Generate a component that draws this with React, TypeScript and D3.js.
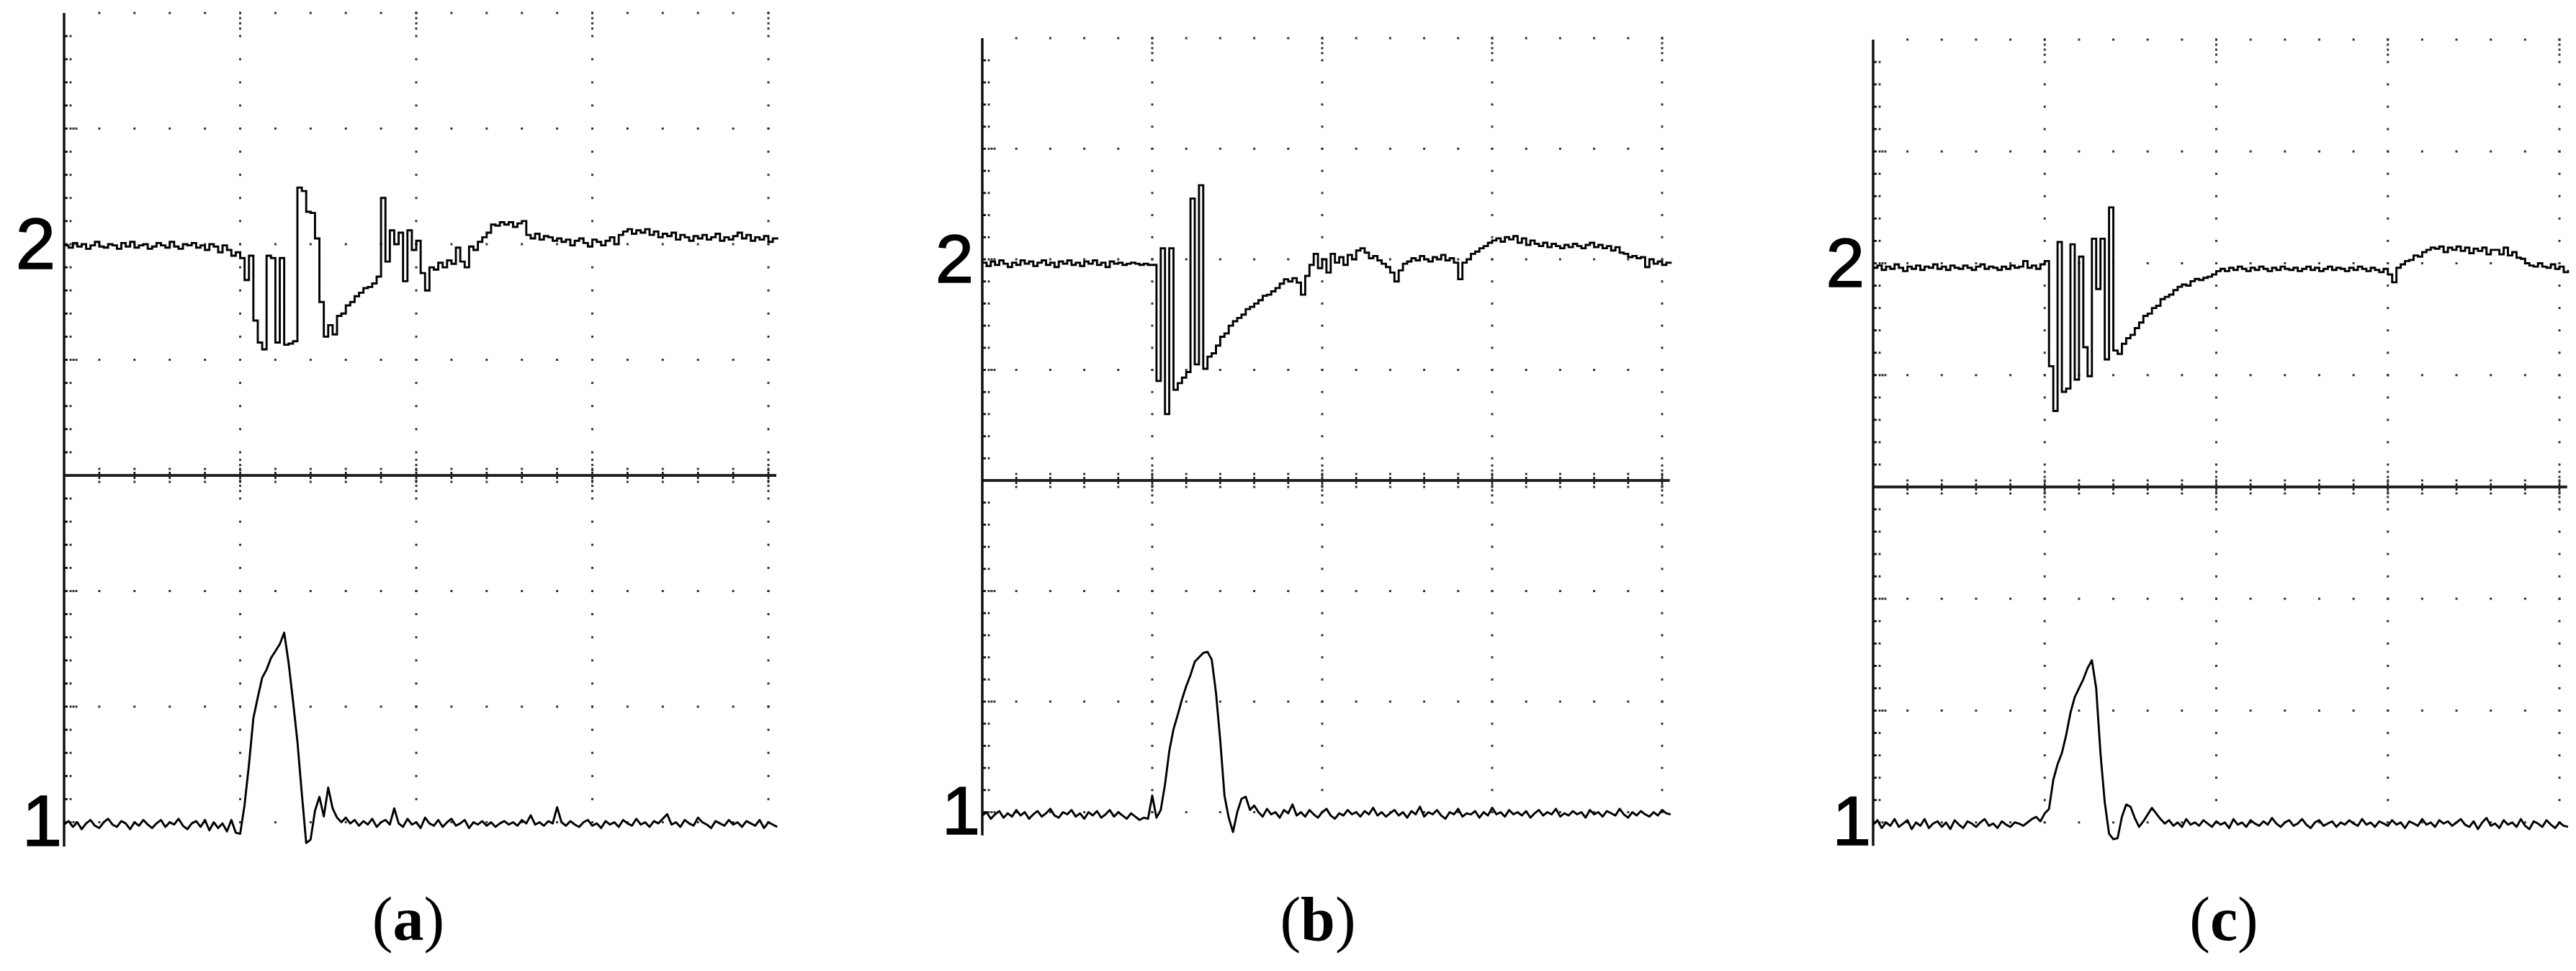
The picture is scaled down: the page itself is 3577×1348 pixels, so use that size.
import React from 'react';
import * as d3 from 'd3';

// Sample step along the time axis, in screen divisions
const STEP = 0.025;

// Channel 2 / channel 1 traces, values in screen divisions (divider = 0, top = 4)
const A2 = [
  1.99, 1.97, 2.01, 1.98, 2.00, 1.96, 1.99, 2.02, 1.98, 1.97,
  2.00, 1.99, 1.96, 2.01, 1.98, 2.02, 1.97, 1.99, 2.00, 1.96,
  1.98, 2.01, 1.99, 1.97, 2.02, 1.98, 1.96, 2.00, 1.99, 2.01,
  1.97, 1.99, 1.95, 2.00, 1.98, 1.93, 1.99, 1.95, 1.90, 1.93,
  1.88,
  1.69, 1.90, 1.34, 1.15, 1.09, 1.90, 1.88, 1.15, 1.88, 1.13, 1.14, 1.16, 2.49, 2.46, 2.28, 2.27,
  2.05, 1.50, 1.20, 1.30, 1.22, 1.38, 1.40, 1.47, 1.50, 1.55, 1.58, 1.62, 1.63, 1.66, 1.72,
  2.40, 1.85, 2.12, 2.00, 2.10, 1.68, 2.12, 1.95, 2.03, 1.75, 1.60, 1.80, 1.78, 1.84, 1.80, 1.86,
  1.83, 1.97, 1.85, 1.80, 1.98, 1.95, 2.02, 2.06, 2.10, 2.17, 2.16, 2.19, 2.17, 2.19, 2.15, 2.18,
  2.20, 2.08, 2.05, 2.09, 2.04, 2.07, 2.06,
  2.03, 2.05, 2.02, 2.04, 1.99, 2.03, 2.05, 2.01, 1.98, 2.04, 2.02, 1.99,
  2.03, 2.06, 2.00, 2.08, 2.11, 2.13, 2.09, 2.12, 2.10, 2.13, 2.08, 2.11, 2.06,
  2.09, 2.07, 2.10, 2.04, 2.08, 2.06, 2.03, 2.07, 2.05, 2.08, 2.04, 2.06, 2.09, 2.03, 2.06,
  2.04, 2.07, 2.10, 2.05, 2.08, 2.03, 2.06, 2.04, 2.07, 2.02, 2.05, 2.04,
];

const A1 = [
  -3.02, -2.99, -3.04, -3.00, -3.06, -3.01, -2.98, -3.03, -3.05, -3.00,
  -2.97, -3.02, -3.04, -2.99, -3.01, -3.06, -3.00, -3.03, -2.98, -3.02,
  -3.05, -3.01, -2.98, -3.04, -3.00, -3.02, -2.97, -3.03, -3.06, -3.01,
  -2.99, -3.04, -2.98, -3.07, -3.00, -3.05, -3.01, -3.08, -2.98, -3.09,
  -3.10,
  -2.85, -2.50, -2.10, -1.92, -1.75, -1.68, -1.58, -1.52, -1.46, -1.36,
  -1.62, -1.95, -2.30, -2.75, -3.18, -3.15, -2.90, -2.78, -2.95, -2.70,
  -2.88, -2.96, -3.00, -2.96, -3.01,
  -2.98, -3.03, -2.99, -3.02, -2.97, -3.04, -3.00, -2.98, -3.02, -2.88,
  -3.01, -3.04, -2.97, -3.02, -3.00, -3.05, -2.96, -3.01, -3.03, -2.98,
  -3.04, -3.00, -2.97, -3.03, -3.01, -2.98, -3.05, -3.00, -3.02, -2.99,
  -3.03, -3.00, -3.04, -3.01, -2.99, -3.02, -3.00, -3.03, -2.98, -3.01,
  -2.94, -3.02, -3.00, -3.03, -2.99, -3.01, -2.87, -3.00, -3.03, -2.99,
  -3.02, -3.04, -3.00, -2.98, -3.03, -3.01, -3.05, -2.99, -3.02, -3.00,
  -3.04, -2.98, -3.01, -3.03, -2.97, -3.02, -3.00, -3.04, -2.99, -3.01,
  -2.97, -2.93, -3.02, -3.00, -3.04, -2.98, -3.01, -3.03, -2.96, -3.00,
  -3.02, -3.05, -2.99, -3.01, -3.03, -2.98, -3.02, -3.00, -3.04, -2.99,
  -3.01, -3.03, -2.98, -3.05, -3.00, -3.02, -3.04,
];

const B2 = [
  1.97, 1.94, 1.98, 1.95, 1.99, 1.96, 1.93, 1.97, 1.95, 1.99,
  1.96, 1.98, 1.94, 1.97, 1.99, 1.95, 1.97, 1.93, 1.98, 1.96,
  1.99, 1.95, 1.97, 1.94, 1.98, 1.96, 1.99, 1.95, 1.97, 1.93,
  1.98, 1.96, 1.97, 1.95, 1.96, 1.97, 1.96, 1.95, 1.96, 1.95,
  1.95,
  0.90, 2.10, 0.60, 2.10, 0.82, 0.88, 0.93, 0.98, 2.55, 1.05,
  2.67, 1.01, 1.12, 1.15, 1.22, 1.30, 1.33, 1.40, 1.44, 1.47,
  1.50, 1.55, 1.57, 1.60, 1.63, 1.67, 1.68, 1.71, 1.74, 1.78,
  1.82, 1.80, 1.83, 1.79,
  1.68, 1.85, 1.95, 2.05, 1.92, 2.00, 1.88, 2.05, 1.97, 2.02,
  1.95, 2.04, 2.00, 2.08, 2.10, 2.06, 2.01, 2.03, 1.99, 1.96,
  1.93, 1.88, 1.80, 1.90, 1.96, 1.98, 2.01, 1.99, 2.03, 2.00,
  1.98, 2.02, 2.00, 2.04, 1.99, 2.01, 1.97, 1.82, 1.97, 2.00,
  2.05, 2.07, 2.10, 2.12, 2.15, 2.17, 2.19, 2.16, 2.20, 2.18,
  2.21, 2.15, 2.19, 2.13, 2.17, 2.14, 2.12, 2.15, 2.11, 2.14,
  2.12, 2.10, 2.13, 2.11, 2.14, 2.12, 2.10, 2.13, 2.15, 2.11,
  2.13, 2.10, 2.12, 2.08, 2.11, 2.06, 2.05, 2.02, 2.03, 2.01,
  2.02, 1.93, 2.00, 1.96, 1.98, 1.95, 1.97, 1.96,
];

const B1 = [
  -3.03, -3.00, -3.06, -3.02, -2.99, -3.05, -3.01, -3.04, -2.98, -3.03,
  -3.00, -3.06, -3.02, -2.99, -3.04, -3.01, -2.97, -3.03, -3.05, -3.00,
  -3.02, -2.98, -3.04, -3.01, -3.06, -3.00, -3.03, -2.99, -3.05, -3.02,
  -2.98, -3.04, -3.00, -3.03, -3.06, -3.01, -3.04, -3.07, -3.05,
  -3.06, -2.85, -3.05, -2.98, -2.75, -2.45, -2.25, -2.12, -1.98, -1.86,
  -1.76, -1.64, -1.60, -1.56, -1.55, -1.62, -1.92, -2.35, -2.85, -3.05,
  -3.18, -3.00, -2.88, -2.86, -2.98, -2.94,
  -3.00, -3.04, -2.97, -3.02, -3.00, -3.05, -2.98, -3.01, -2.93, -3.03,
  -3.00, -3.04, -2.98, -3.02, -3.05, -3.00, -2.97, -3.03, -3.06, -3.01,
  -3.03, -2.98, -3.02, -3.00, -3.04, -2.99, -3.02, -2.96, -3.03, -3.00,
  -3.04, -3.01, -2.98, -3.03, -3.00, -3.05, -2.99, -3.02, -2.95, -3.04,
  -3.00, -3.02, -2.98, -3.03, -3.06, -3.00, -3.02, -2.97, -3.04, -3.01,
  -3.02, -2.99, -3.05, -3.00, -3.03, -2.96, -3.02, -3.00, -3.04, -2.98,
  -3.02, -3.00, -3.03, -2.99, -3.05, -3.01, -2.98, -3.03, -3.00, -3.02,
  -2.97, -3.04, -3.01, -3.03, -2.99, -3.02, -3.00, -3.05, -2.98, -3.02,
  -3.00, -3.04, -2.99, -3.01, -3.03, -2.97, -3.02, -3.05, -3.00, -3.03,
  -2.99, -3.02, -3.04, -3.00, -3.03, -2.98, -3.01, -3.02,
];

const C2 = [
  1.96, 1.98, 1.94, 1.97, 1.95, 1.99, 1.96, 1.93, 1.97, 1.95,
  1.98, 1.94, 1.97, 1.96, 1.99, 1.95, 1.97, 1.94, 1.98, 1.96,
  1.95, 1.98, 1.96, 1.94, 1.97, 1.99, 1.95, 1.97, 1.96, 1.94,
  1.97, 1.95, 1.98, 1.96, 1.97, 2.02, 1.96, 1.98, 1.95, 1.99,
  2.02, 1.08, 0.68, 2.19, 0.85, 0.88, 2.17, 0.96, 2.06, 1.25,
  0.99, 2.22, 1.77, 2.22, 1.14, 2.50, 1.22, 1.19, 1.28, 1.33,
  1.36, 1.42, 1.47, 1.53, 1.55, 1.60, 1.62, 1.68, 1.70, 1.72,
  1.76, 1.79, 1.81, 1.80, 1.84, 1.86, 1.85, 1.87, 1.88, 1.90,
  1.93,
  1.95, 1.93, 1.96, 1.94, 1.97, 1.95, 1.93, 1.96, 1.94, 1.97,
  1.95, 1.93, 1.96, 1.94, 1.97, 1.95, 1.94, 1.96, 1.93, 1.95,
  1.97, 1.94, 1.96, 1.93, 1.95, 1.97, 1.94, 1.96, 1.95, 1.93,
  1.96, 1.94, 1.97, 1.95, 1.93, 1.96, 1.94, 1.92, 1.95, 1.90,
  1.83, 1.96, 1.99, 2.02, 2.03, 2.07, 2.06, 2.10, 2.12, 2.14,
  2.13, 2.15, 2.10, 2.14, 2.12, 2.15, 2.11, 2.14, 2.09, 2.13,
  2.11, 2.14, 2.08, 2.12, 2.12, 2.08, 2.14, 2.07, 2.10, 2.05,
  2.04, 2.00, 1.98, 1.97, 2.00, 1.97, 1.96, 1.99, 1.95, 1.97,
  1.92, 1.94,
];

const C1 = [
  -3.02, -2.98, -3.05, -3.00, -3.03, -2.97, -3.04, -3.01, -2.98, -3.06,
  -3.00, -3.03, -2.97, -3.05, -3.01, -2.99, -3.04, -3.00, -3.06, -2.98,
  -3.02, -3.05, -2.99, -3.01, -3.04, -3.00, -2.97, -3.03, -3.01, -3.05,
  -2.99, -3.02, -3.04, -3.00, -3.01, -3.03,
  -3.00, -2.97, -2.95, -2.99, -2.92, -2.88, -2.62, -2.48, -2.38, -2.22,
  -2.02, -1.88, -1.80, -1.72, -1.62, -1.55, -1.80, -2.38, -2.82, -3.10,
  -3.15, -3.14, -2.95, -2.84, -2.86, -2.96, -3.04, -2.99, -2.93, -2.87,
  -2.92, -2.97,
  -3.01, -2.98, -3.03, -3.00, -3.04, -2.97, -3.02, -3.00, -3.03, -2.98,
  -3.01, -3.04, -2.99, -3.02, -3.00, -3.05, -2.97, -3.02, -3.00, -3.04,
  -2.98, -3.01, -3.03, -2.99, -3.02, -2.96, -3.01, -3.04, -3.00, -2.98,
  -3.03, -3.01, -2.97, -3.02, -3.05, -3.00, -2.98, -3.03, -3.01, -2.99,
  -3.04, -3.00, -3.02, -2.98, -3.01, -3.03, -2.97, -3.02, -3.00, -3.04,
  -2.99, -3.01, -3.03, -2.98, -3.02, -3.00, -3.05, -2.99, -3.01, -3.03,
  -2.97, -3.02, -3.00, -3.04, -2.98, -3.01, -2.99, -3.03, -3.00, -2.97,
  -3.02, -3.04, -2.99, -3.06, -3.00, -2.96, -3.03, -3.01, -3.05, -2.98,
  -3.02, -3.00, -3.04, -2.97, -3.03, -3.06, -2.99, -3.01, -3.04, -2.98,
  -3.02, -3.05, -3.00, -3.03, -3.04,
];

// Graticule levels (divisions)
const MAJOR_ROWS = [4, 3, 2, 1, -1, -2, -3];
const MAJOR_COLS = [1, 2, 3, 4];
const CHANNEL_LABELS = ['2', '1'];
const CAPTIONS = ['a', 'b', 'c'];

// Panel placement (layout only)
const PANELS = [
  { ch2: A2, ch1: A1, left: 89, right: 1067, top: 18, mid: 660, capX: 567 },
  { ch2: B2, ch1: B1, left: 1364, right: 2308, top: 53, mid: 667, capX: 1830 },
  { ch2: C2, ch1: C1, left: 2601, right: 3554, top: 55, mid: 676, capX: 3088 },
];

const DOT = '#333';

function Panel({ p, caption }: { p: any; caption: string }) {
  const x = d3.scaleLinear().domain([0, 4]).range([p.left, p.right]);
  const y = d3.scaleLinear().domain([0, 4]).range([p.mid, p.top]);
  const divY = (p.mid - p.top) / 4;
  const stepLine = d3
    .line<number>()
    .x((_d, i) => x(i * STEP))
    .y((d) => y(d))
    .curve(d3.curveStepAfter);
  const smoothLine = d3
    .line<number>()
    .x((_d, i) => x(i * STEP))
    .y((d) => y(d))
    .curve(d3.curveLinear);

  const minorX = d3.range(1, 21).map((k) => k / 5);
  const minorY = d3.range(-15, 21).map((k) => k / 5).filter((v) => Math.abs(v) > 1e-6);
  const dense = [0.045, 0.09, 0.135];

  const dots: { cx: number; cy: number }[] = [];
  MAJOR_ROWS.forEach((r) => minorX.forEach((m) => dots.push({ cx: x(m), cy: y(r) })));
  MAJOR_COLS.forEach((c) => {
    minorY.forEach((m) => dots.push({ cx: x(c), cy: y(m) }));
    dense.forEach((d) => {
      dots.push({ cx: x(c), cy: y(d) });
      dots.push({ cx: x(c), cy: y(-d) });
      dots.push({ cx: x(c), cy: y(4 - d) });
    });
  });
  // dots beside the left axis
  minorY.forEach((m) => {
    const isMajor = Math.abs(m - Math.round(m)) < 1e-6;
    if (m > 3.9) return;
    dots.push({ cx: x(0) + 9, cy: y(m) });
    if (isMajor) {
      dots.push({ cx: x(0) + 13, cy: y(m) });
      dots.push({ cx: x(0) + 17, cy: y(m) });
    }
  });
  // divider tick dots
  minorX.forEach((m) => {
    dots.push({ cx: x(m), cy: p.mid - 9 });
    dots.push({ cx: x(m), cy: p.mid + 9 });
  });

  const fs = 0.62 * divY;
  return (
    <g>
      {dots.map((d, i) => (
        <rect key={i} x={d.cx - 1.5} y={d.cy - 1.5} width={3} height={3} fill={DOT} />
      ))}
      {minorY
        .filter((m) => m < 3.9)
        .map((m, i) => (
          <line key={'at' + i} x1={x(0)} x2={x(0) + 5} y1={y(m)} y2={y(m)} stroke="#111" strokeWidth={2.8} />
        ))}
      {minorX.map((m, i) => (
        <line key={'dt' + i} x1={x(m)} x2={x(m)} y1={p.mid - 5} y2={p.mid + 5} stroke="#111" strokeWidth={2.6} />
      ))}
      <line x1={x(0)} x2={x(4.045)} y1={y(0)} y2={y(0)} stroke="#222" strokeWidth={4} />
      <line x1={x(0)} x2={x(0)} y1={y(4)} y2={y(-3.21)} stroke="#111" strokeWidth={3.5} />
      <path d={stepLine(p.ch2) || ''} fill="none" stroke="#000" strokeWidth={2.9} />
      <path d={smoothLine(p.ch1) || ''} fill="none" stroke="#000" strokeWidth={2.9} strokeLinejoin="round" />
      <text
        x={x(0) - 12}
        y={y(1.79)}
        textAnchor="end"
        fontFamily="'Liberation Sans', Arial, sans-serif"
        fontSize={fs}
        fill="#000"
        stroke="#000"
        strokeWidth={1.6}
      >
        {CHANNEL_LABELS[0]}
      </text>
      <text
        x={x(0) - 3}
        y={y(-3.2)}
        textAnchor="end"
        fontFamily="'Liberation Sans', Arial, sans-serif"
        fontSize={fs}
        fill="#000"
        stroke="#000"
        strokeWidth={1.6}
      >
        {CHANNEL_LABELS[1]}
      </text>
      <text
        x={p.capX}
        y={1305}
        textAnchor="middle"
        fontFamily="'Liberation Serif', 'Times New Roman', serif"
        fontSize={86}
        fill="#000"
      >
        (<tspan fontWeight="bold">{caption}</tspan>)
      </text>
    </g>
  );
}

export default function App() {
  return (
    <svg
      width={3577}
      height={1348}
      viewBox="0 0 3577 1348"
      style={{ position: 'absolute', left: 0, top: 0, display: 'block', background: '#fff' }}
    >
      <rect x={0} y={0} width={3577} height={1348} fill="#fff" />
      {PANELS.map((p, i) => (
        <Panel key={i} p={p} caption={CAPTIONS[i]} />
      ))}
    </svg>
  );
}
